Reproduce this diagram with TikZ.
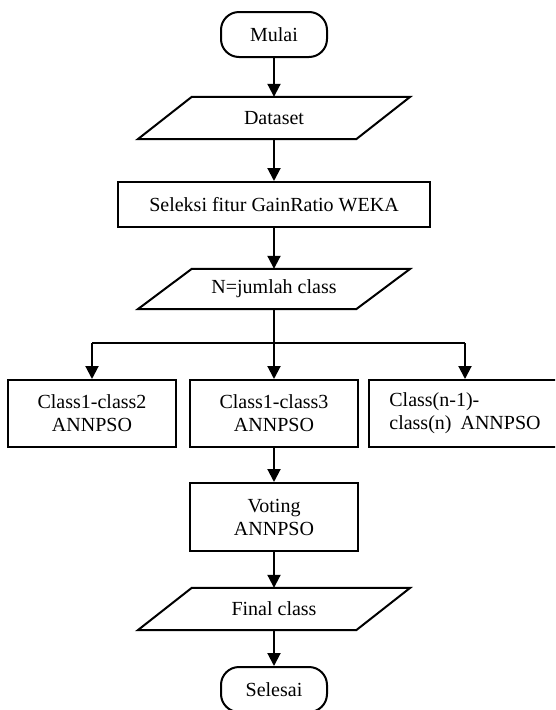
\documentclass[tikz,border=0pt]{standalone}
\usepackage{fontspec}
\setmainfont{Liberation Serif}
\usetikzlibrary{arrows.meta,calc}
\tikzset{
  thickline/.style={line width=2pt},
  arr/.style={line width=2pt,-{Triangle[length=13pt,width=13pt]}},
  base/.style={font=\fontsize{20}{23}\selectfont, inner sep=0pt, align=center},
  terminal/.style={base,draw,line width=2pt,rounded corners=18pt,minimum width=106pt,minimum height=45pt},
  procbox/.style={base,draw,line width=2pt},
  iobox/.style={base,minimum width=272pt,minimum height=42pt},
}
\newcommand\drawio[1]{\draw[thickline,line join=miter] ([xshift=54pt]#1.north west) -- (#1.north east) -- ([xshift=-54pt]#1.south east) -- (#1.south west) -- cycle;}
\begin{document}
\begin{tikzpicture}[x=1pt,y=-1pt]
\clip (0,0) rectangle (555,710);
\fill[white] (0,0) rectangle (555,710);

\node[terminal] (mulai) at (274,34.5) {Mulai};
\node[iobox] (dataset) at (274,118) {Dataset};
\drawio{dataset}
\node[procbox,minimum width=312pt,minimum height=45pt] (seleksi) at (274,204.5) {Seleksi fitur GainRatio WEKA};
\node[iobox,minimum height=40pt] (njml) at (274,289) {N=jumlah class};
\drawio{njml}

\node[procbox,minimum width=168pt,minimum height=67pt] (c12) at (92,413.5) {Class1-class2\\ANNPSO};
\node[procbox,minimum width=168pt,minimum height=67pt] (c13) at (274,413.5) {Class1-class3\\ANNPSO};
\node[procbox,minimum width=192pt,minimum height=67pt,align=left] (cn) at (465,413.5) {Class(n-1)-\\class(n)\hspace{0.45em}ANNPSO};

\node[procbox,minimum width=168pt,minimum height=68pt] (voting) at (274,517) {Voting\\ANNPSO};
\node[iobox] (final) at (274,609) {Final class};
\drawio{final}
\node[terminal] (selesai) at (274,689.5) {Selesai};

\coordinate (br) at ($(njml.south)+(0,34)$);

\draw[arr] (mulai) -- (dataset);
\draw[arr] (dataset) -- (seleksi);
\draw[arr] (seleksi) -- (njml);
\draw[thickline] (njml.south) -- (br);
\draw[thickline] (c12.north |- br) -- (cn.north |- br);
\draw[arr] (c12.north |- br) -- (c12.north);
\draw[arr] (br) -- (c13.north);
\draw[arr] (cn.north |- br) -- (cn.north);
\draw[arr] (c13) -- (voting);
\draw[arr] (voting) -- (final);
\draw[arr] (final) -- (selesai);
\end{tikzpicture}
\end{document}
